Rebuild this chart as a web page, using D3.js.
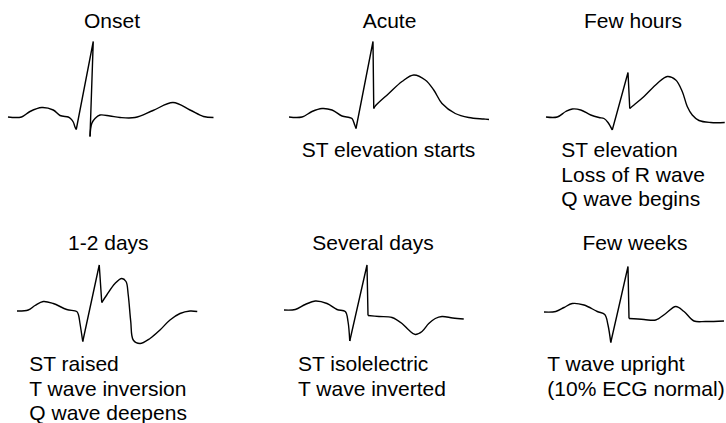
<!DOCTYPE html>
<html>
<head>
<meta charset="utf-8">
<script src="https://cdn.jsdelivr.net/npm/d3@7"></script>
<style>
  html, body { margin: 0; padding: 0; background: #fff; }
  svg { display: block; }
  text { font-family: "Liberation Sans", Arial, Helvetica, sans-serif; font-size: 21px; fill: #000; }
</style>
</head>
<body>
<svg id="chart" width="726" height="423"></svg>
<script>
// stage titles and captions
const stages = ["Onset", "Acute", "Few hours", "1-2 days", "Several days", "Few weeks"];
const notes = [
  [],
  ["ST elevation starts"],
  ["ST elevation", "Loss of R wave", "Q wave begins"],
  ["ST raised", "T wave inversion", "Q wave deepens"],
  ["ST isolelectric", "T wave inverted"],
  ["T wave upright", "(10% ECG normal)"],
];

// traces as [ms, mV]; each beat split at the Q and S corners
const onsetPQ = [[0, 0], [54, 0], [88, 0.11], [135, 0.19], [181, 0.14], [208, 0.03], [241, 0], [250, -0.03], [261, -0.1], [268, -0.2], [273, -0.25]];
const onsetQRS = [[273, -0.25], [341, 1.51], [328, -0.39]];
const onsetST = [[328, -0.39], [335, -0.13], [348, -0.03], [368, 0.04], [408, 0.02], [448, -0.01], [508, -0.01], [580, 0.13], [660, 0.29], [728, 0.14], [782, 0.01], [822, -0.01]];

const acutePQ = [[0, 0], [52, 0], [92, 0.11], [132, 0.17], [172, 0.14], [212, 0.02], [241, -0.01], [252, -0.03], [263, -0.16], [268, -0.23]];
const acuteQRS = [[268, -0.23], [336, 1.51], [339, 0.17]];
const acuteST = [[339, 0.17], [345, 0.22], [399, 0.47], [452, 0.71], [499, 0.84], [545, 0.74], [579, 0.54], [612, 0.27], [665, 0.07], [719, -0.01], [779, -0.04], [800, -0.05]];

const hoursPQ = [[0, 0], [45, 0], [79, 0.11], [105, 0.16], [139, 0.14], [179, 0.04], [212, -0.01], [232, -0.03], [248, -0.11], [265, -0.26]];
const hoursQRS = [[265, -0.26], [328, 0.89], [335, 0.17]];
const hoursST = [[335, 0.17], [352, 0.24], [392, 0.41], [445, 0.67], [485, 0.81], [519, 0.74], [545, 0.51], [565, 0.21], [585, 0.04], [612, -0.07], [659, -0.11], [715, -0.11]];

const daysPQ = [[0, 0], [45, 0.02], [72, 0.11], [105, 0.19], [145, 0.15], [199, 0.03], [239, -0.01], [246, -0.08], [252, -0.25], [263, -0.61]];
const daysQRS = [[263, -0.61], [329, 0.92], [339, 0.17]];
const daysST = [[339, 0.17], [359, 0.32], [392, 0.55], [419, 0.65], [436, 0.59], [445, 0.32], [455, -0.21], [465, -0.58], [492, -0.65], [532, -0.55], [572, -0.38], [612, -0.18], [652, -0.05], [692, 0], [721, -0.01]];

const severalPQ = [[0, 0], [45, 0.01], [85, 0.11], [125, 0.18], [172, 0.13], [212, 0.01], [245, -0.03], [256, -0.23], [263, -0.62]];
const severalQRS = [[263, -0.62], [332, 0.9], [336, -0.11]];
const severalST = [[336, -0.11], [380, -0.13], [432, -0.15], [472, -0.27], [499, -0.4], [525, -0.49], [552, -0.43], [579, -0.27], [605, -0.17], [632, -0.13], [675, -0.16], [719, -0.18]];

const weeksPQ = [[0, 0], [47, 0.01], [80, 0.09], [113, 0.17], [160, 0.14], [213, 0.01], [243, -0.05], [256, -0.26], [267, -0.61]];
const weeksQRS = [[267, -0.61], [336, 0.91], [340, -0.13]];
const weeksST = [[340, -0.13], [400, -0.15], [447, -0.16], [487, -0.03], [527, 0.11], [560, 0.01], [600, -0.18], [647, -0.19], [720, -0.18]];

const traces = [
  [onsetPQ, onsetQRS, onsetST],
  [acutePQ, acuteQRS, acuteST],
  [hoursPQ, hoursQRS, hoursST],
  [daysPQ, daysQRS, daysST],
  [severalPQ, severalQRS, severalST],
  [weeksPQ, weeksQRS, weeksST],
];

// layout
const panelX = [8, 289, 546, 17, 284, 544];
const panelY = [117, 117, 117, 311, 310, 312];
const titleX = [112, 389.5, 633, 108.3, 373, 635];
const titleY = [27.5, 27.5, 27.5, 250, 250, 250];
const noteX = [0, 301.7, 561.3, 29.3, 298, 547.3];
const noteY = [0, 156.7, 156.7, 370.7, 370.7, 370.7];
const noteGap = 24.8;

const x = d3.scaleLinear().domain([0, 1000]).range([0, 250]);
const y = d3.scaleLinear().domain([-1, 1]).range([50, -50]);

const smooth = d3.line()
  .x(d => x(d[0]))
  .y(d => y(d[1]))
  .curve(d3.curveCatmullRom.alpha(0.5));
const sharp = d3.line()
  .x(d => x(d[0]))
  .y(d => y(d[1]));

const svg = d3.select("#chart");

const panels = svg.selectAll("g.panel")
  .data(stages)
  .join("g")
  .attr("class", "panel");

panels.append("g")
  .attr("transform", (d, i) => `translate(${panelX[i]},${panelY[i]})`)
  .each(function (d, i) {
    const g = d3.select(this);
    const [pq, qrs, st] = traces[i];
    g.append("path").attr("d", smooth(pq));
    g.append("path").attr("d", sharp(qrs));
    g.append("path").attr("d", smooth(st));
  })
  .selectAll("path")
  .attr("fill", "none")
  .attr("stroke", "#000")
  .attr("stroke-width", 1.4);

panels.append("text")
  .attr("x", (d, i) => titleX[i])
  .attr("y", (d, i) => titleY[i])
  .attr("text-anchor", "middle")
  .text(d => d);

panels.each(function (d, i) {
  d3.select(this)
    .selectAll("text.note")
    .data(notes[i])
    .join("text")
    .attr("class", "note")
    .attr("x", noteX[i])
    .attr("y", (n, j) => noteY[i] + j * noteGap)
    .text(n => n);
});
</script>
</body>
</html>
